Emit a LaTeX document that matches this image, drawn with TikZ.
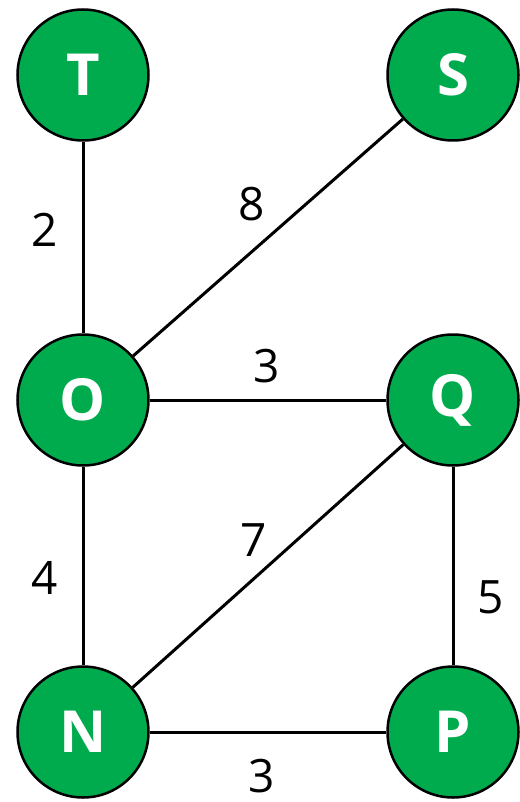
\documentclass[tikz,border=0pt]{standalone}
\usepackage{fontspec}
\setmainfont{Open Sans}
\definecolor{nodegreen}{HTML}{00AB4E}
\begin{document}
\begin{tikzpicture}[x=1pt,y=-1pt,
  vert/.style={circle,draw=black,line width=2.5pt,fill=nodegreen,minimum size=131pt,inner sep=0pt,text=white,font=\fontsize{58}{60}\selectfont\bfseries},
  edge/.style={line width=3pt,black},
  wlabel/.style={font=\fontsize{46}{48}\selectfont,text=black,inner sep=0pt}]
\useasboundingbox (0,0) rectangle (519,802);
\node[vert] (T) at (83,75) {T};
\node[vert] (S) at (453,75) {S};
\node[vert] (O) at (83,400) {O};
\node[vert] (Q) at (453,400) {Q};
\node[vert] (N) at (83,732) {N};
\node[vert] (P) at (453,732) {P};
\draw[edge] (T) -- (O);
\draw[edge] (S) -- (O);
\draw[edge] (O) -- (Q);
\draw[edge] (O) -- (N);
\draw[edge] (Q) -- (N);
\draw[edge] (Q) -- (P);
\draw[edge] (N) -- (P);
\node[wlabel] (l2) at (45,230) {2};
\node[wlabel] (l8) at (252,204) {8};
\node[wlabel] (l3a) at (267,366) {3};
\node[wlabel] (l7) at (254,540) {7};
\node[wlabel] (l4) at (45,578) {4};
\node[wlabel] (l5) at (491,597) {5};
\node[wlabel] (l3b) at (262,776) {3};
\end{tikzpicture}
\end{document}
